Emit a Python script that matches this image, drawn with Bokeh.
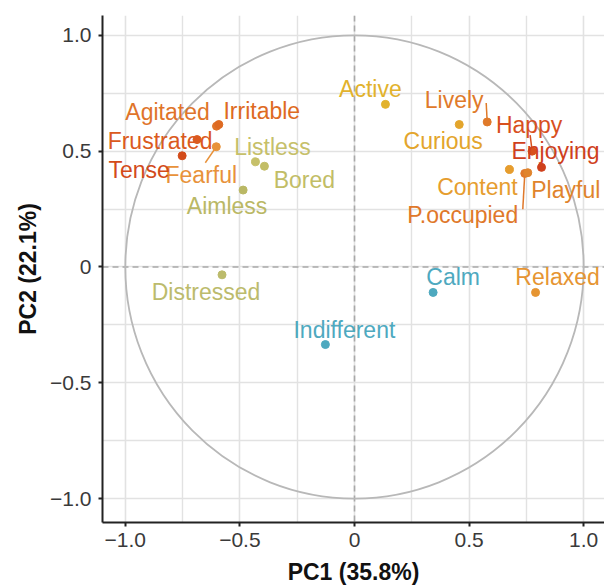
from bokeh.plotting import figure
from bokeh.models import ColumnDataSource, FixedTicker, Span, Range1d
from bokeh.core.properties import value
from bokeh.embed import file_html
from bokeh.resources import INLINE

# ---- data ----
names = ["Active", "Lively", "Curious", "Happy", "Enjoying", "Content", "P.occupied",
         "Playful", "Relaxed", "Calm", "Indifferent", "Distressed", "Aimless", "Bored",
         "Listless", "Fearful", "Tense", "Frustrated", "Agitated", "Irritable"]
pc1 = [0.135, 0.579, 0.457, 0.775, 0.816, 0.676, 0.743,
       0.756, 0.790, 0.343, -0.127, -0.578, -0.486, -0.393,
       -0.432, -0.603, -0.752, -0.687, -0.602, -0.592]
pc2 = [0.702, 0.626, 0.615, 0.500, 0.430, 0.421, 0.404,
       0.407, -0.110, -0.110, -0.335, -0.034, 0.332, 0.435,
       0.454, 0.519, 0.480, 0.550, 0.608, 0.615]
tick_values = [-1.0, -0.5, 0.0, 0.5, 1.0]
tick_labels = ["\u22121.0", "\u22120.5", "0", "0.5", "1.0"]
minor_values = [-0.75, -0.25, 0.25, 0.75]
x_title = "PC1 (35.8%)"
y_title = "PC2 (22.1%)"

# ---- styles ----
colors = ["#e2b22c", "#e07a2a", "#e3a52c", "#d8501e", "#cf401c", "#e69d2e", "#e0782a",
          "#e0842c", "#e69532", "#4ea9bf", "#4ea9bf", "#bcbb6c", "#bab865", "#c2bd66",
          "#c6c06a", "#e8923a", "#d34b1a", "#db5a20", "#e0742a", "#de6a22"]
# label offsets in screen pixels (dx right, dy down)
lab_dx = [-15, -33, -16, -3, 14, -32, -62, 38, 22, 20, 19, -16, -16, 40, 17, -15, -43, -37, -49, 43]
lab_dy = [-15, -22, 16, -26, -16, 18, 42, 17, -15, -15, -15, 17, 16, 14, -15, 28, 14, 1, -14, -14]
# connector segment end offsets (pixels) for repelled labels
seg_names = ["Lively", "Happy", "Fearful", "P.occupied"]
seg_dx = [-1, -2, -11, -2]
seg_dy = [-19, -16, 16, 36]

FW, FH = 502, 508
XR = (-1.0995, 1.0908)
YR = (-1.1034, 1.0857)
PX = FW / (XR[1] - XR[0])
PY = FH / (YR[1] - YR[0])

p = figure(width=604, height=587, output_backend="svg", toolbar_location=None,
           x_range=Range1d(*XR), y_range=Range1d(*YR),
           min_border_left=102, min_border_right=0, min_border_top=15, min_border_bottom=64)
p.outline_line_color = None
p.background_fill_color = "white"

FONT = "Liberation Sans"
for ax in (p.xaxis[0], p.yaxis[0]):
    ax.ticker = FixedTicker(ticks=tick_values, minor_ticks=minor_values)
    ax.major_label_overrides = {v: l for v, l in zip(tick_values, tick_labels)}
    ax.axis_line_color = "#222222"
    ax.axis_line_width = 2
    ax.major_tick_line_color = "#222222"
    ax.major_tick_line_width = 2
    ax.major_tick_out = 4
    ax.major_tick_in = 0
    ax.minor_tick_line_color = None
    ax.major_label_text_font = FONT
    ax.major_label_text_font_size = "21px"
    ax.major_label_text_color = "#3a3a3a"
    ax.axis_label_text_font = FONT
    ax.axis_label_text_font_style = "bold"
    ax.axis_label_text_font_size = "23px"
    ax.axis_label_text_color = "#111111"

p.xaxis.axis_label = x_title
p.yaxis.axis_label = y_title
p.xaxis.major_label_standoff = 6
p.xaxis.axis_label_standoff = 9
p.yaxis.major_label_standoff = 7
p.yaxis.axis_label_standoff = 6

for g in (p.xgrid[0], p.ygrid[0]):
    g.grid_line_color = "#e2e2e2"
    g.grid_line_width = 1.6
    g.minor_grid_line_color = "#e2e2e2"
    g.minor_grid_line_width = 1.4

for dim in ("height", "width"):
    p.add_layout(Span(location=0, dimension=dim, line_color="#a9a9a9", line_width=1.6,
                      line_dash="6 4", level="underlay"))

p.ellipse(x=[0], y=[0], width=[2], height=[2], fill_color=None,
          line_color="#b8b8b8", line_width=1.8)

# connector segments
sx0, sy0, sx1, sy1, sc = [], [], [], [], []
for n, dx, dy in zip(seg_names, seg_dx, seg_dy):
    i = names.index(n)
    sx0.append(pc1[i]); sy0.append(pc2[i])
    sx1.append(pc1[i] + dx / PX); sy1.append(pc2[i] - dy / PY)
    sc.append(colors[i])
p.segment(x0=sx0, y0=sy0, x1=sx1, y1=sy1, line_color=sc, line_width=1.5)

src = ColumnDataSource(dict(x=pc1, y=pc2, name=names, color=colors, dx=lab_dx, dy=lab_dy))
p.scatter(x="x", y="y", source=src, size=8, fill_color="color", line_color="color")
p.text(x="x", y="y", text="name", source=src, x_offset="dx", y_offset="dy",
       text_color="color", text_font=value(FONT), text_font_size="23px",
       text_align="center", text_baseline="middle")

open("out.html", "w").write(file_html(p, INLINE))
